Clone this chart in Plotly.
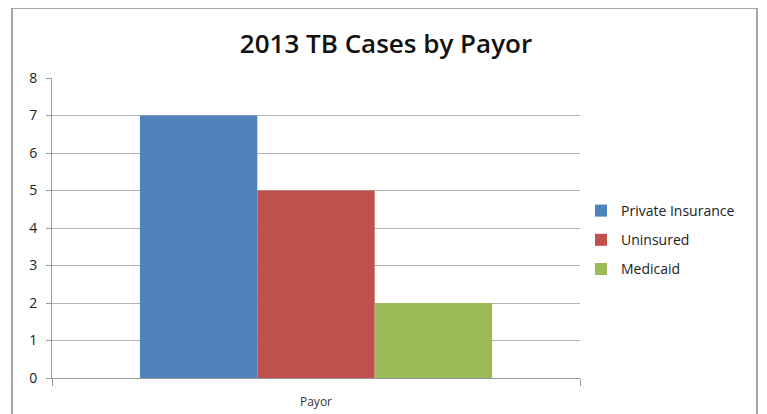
import plotly.graph_objects as go

categories = ["Payor"]
series_names = ["Private Insurance", "Uninsured", "Medicaid"]
series_values = [[7], [5], [2]]
series_colors = ["#4F81BD", "#C0504D", "#9BBB59"]
y_ticks = [0, 1, 2, 3, 4, 5, 6, 7, 8]

# page body has an 8px offset; work in window coords and convert
OFF = 8
W, H = 767 - OFF, 414 - OFF
L, R, T, B = 52 - OFF, 767 - 580, 78 - OFF, 414 - 378
pw, ph = W - L - R, H - T - B

def px(x):
    return (x - OFF - L) / pw

def py(y):
    return (H - B - (y - OFF)) / ph

fig = go.Figure()
for name, vals, col in zip(series_names, series_values, series_colors):
    fig.add_trace(go.Bar(x=categories, y=vals, name=name, marker=dict(color=col, line=dict(width=0)),
                         legendgroup=name))

font_family = "Open Sans, Lato, sans-serif"
fig.update_layout(
    width=W, height=H,
    margin=dict(l=L, r=R, t=T, b=B, autoexpand=False),
    paper_bgcolor="white", plot_bgcolor="white",
    barmode="group", bargap=0.333, bargroupgap=0,
    title=dict(text="2013 TB Cases by Payor", x=(386 - OFF) / W, xref="container", xanchor="center",
               y=1 - (44 - OFF) / H, yref="container", yanchor="middle",
               font=dict(family=font_family, size=26, weight=600, color="#111111")),
    font=dict(family=font_family, color="#222222"),
    showlegend=True,
    legend=dict(x=px(581), xanchor="left", y=py(240), yanchor="middle",
                font=dict(size=14, color="#222222"), tracegroupgap=8,
                bgcolor="rgba(0,0,0,0)"),
    xaxis=dict(showline=True, linecolor="#9a9a9a", linewidth=1, ticks="outside", ticklen=7,
               tickcolor="#9a9a9a", tickson="boundaries", showgrid=False, ticklabelstandoff=13,
               tickfont=dict(size=12, color="#333333")),
    yaxis=dict(range=[0, 8], tickvals=y_ticks, showline=True, linecolor="#9a9a9a", linewidth=1,
               ticks="outside", ticklen=5, tickcolor="#9a9a9a", showgrid=True, gridcolor="#b4b4b4",
               gridwidth=1, zeroline=False, ticklabelstandoff=6,
               tickfont=dict(size=14, color="#222222")),
    shapes=[dict(type="rect", xref="paper", yref="paper", x0=px(12), x1=px(757), y0=py(430), y1=py(8),
                 line=dict(color="#8a8a8a", width=1.5), fillcolor="rgba(0,0,0,0)", layer="below")],
)

fig.write_html("out.html")
